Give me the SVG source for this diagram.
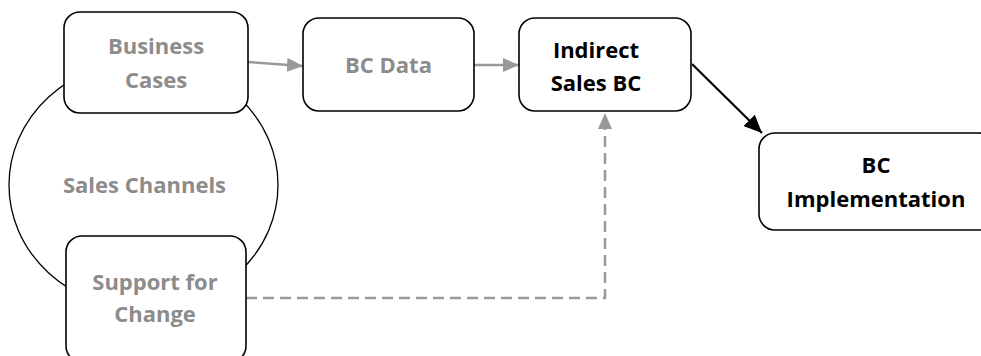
<svg xmlns="http://www.w3.org/2000/svg" width="981" height="356" viewBox="0 0 981 356">
<style>
.box{fill:#fff;stroke:#000;stroke-width:1.6}
.t{font-family:"Open Sans","Liberation Sans",sans-serif;font-weight:700;font-size:22px;text-anchor:middle}
.g{fill:#8c8c8c}
.k{fill:#000}
.ga{stroke:#999;stroke-width:2.5;fill:none}
</style>
<defs>
<marker id="ag" markerWidth="16" markerHeight="14" refX="16" refY="7" orient="auto" markerUnits="userSpaceOnUse"><path d="M0,0 L16,7 L0,14 Z" fill="#999"/></marker>
<marker id="ak" markerWidth="18" markerHeight="16" refX="18" refY="8" orient="auto" markerUnits="userSpaceOnUse"><path d="M0,0 L18,8 L0,16 Z" fill="#000"/></marker>
</defs>
<rect width="981" height="356" fill="#fff"/>
<g id="sales-channels">
<ellipse cx="143.5" cy="185" rx="134.5" ry="124" fill="#fff" stroke="#000" stroke-width="1.3"/>
<text class="t g" x="144.5" y="193">Sales Channels</text>
</g>
<g id="connectors">
<line class="ga" x1="248" y1="62" x2="303" y2="66" marker-end="url(#ag)"/>
<line class="ga" x1="474" y1="65" x2="519" y2="65" marker-end="url(#ag)"/>
<line x1="692" y1="64" x2="762" y2="133" stroke="#000" stroke-width="2.2" marker-end="url(#ak)"/>
<polyline class="ga" points="246,298 605,298 605,113" stroke-dasharray="11,6" marker-end="url(#ag)"/>
</g>
<g id="business-cases">
<rect class="box" x="64" y="12" width="184" height="101" rx="16"/>
<text class="t g" x="156" y="54">Business</text>
<text class="t g" x="156" y="88">Cases</text>
</g>
<g id="support-for-change">
<rect class="box" x="66" y="236" width="180" height="126" rx="16"/>
<text class="t g" x="155" y="290">Support for</text>
<text class="t g" x="155" y="322">Change</text>
</g>
<g id="bc-data">
<rect class="box" x="303" y="18" width="171" height="93" rx="16"/>
<text class="t g" x="388.5" y="73">BC Data</text>
</g>
<g id="indirect-sales-bc">
<rect class="box" x="519" y="18" width="172" height="93" rx="16"/>
<text class="t k" x="596" y="58">Indirect</text>
<text class="t k" x="596" y="91">Sales BC</text>
</g>
<g id="bc-implementation">
<rect class="box" x="759" y="133" width="236" height="97" rx="16"/>
<text class="t k" x="876" y="173">BC</text>
<text class="t k" x="876" y="207">Implementation</text>
</g>
</svg>
